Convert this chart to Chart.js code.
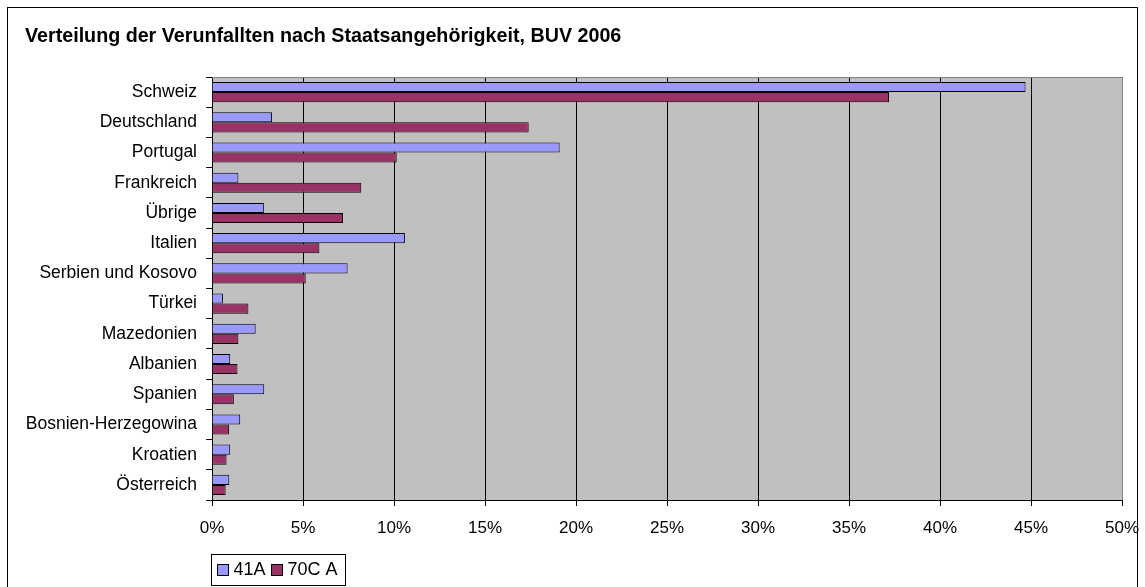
<!DOCTYPE html>
<html>
<head>
<meta charset="utf-8">
<script src="https://cdn.jsdelivr.net/npm/chart.js@4/dist/chart.umd.min.js"></script>
<style>
  body { margin: 0; background: #fff; }
  canvas { display: block; }
</style>
</head>
<body>
<canvas id="chart" width="1145" height="587"></canvas>
<script>
// data (percent)
const categories = ['Schweiz', 'Deutschland', 'Portugal', 'Frankreich', 'Übrige', 'Italien',
  'Serbien und Kosovo', 'Türkei', 'Mazedonien', 'Albanien', 'Spanien',
  'Bosnien-Herzegowina', 'Kroatien', 'Österreich'];
const values41A = [44.7, 3.3, 19.1, 1.45, 2.85, 10.6, 7.45, 0.6, 2.4, 1.0, 2.87, 1.55, 1.0, 0.95];
const values70CA = [37.2, 17.4, 10.15, 8.2, 7.2, 5.9, 5.15, 2.0, 1.45, 1.4, 1.2, 0.93, 0.8, 0.75];
const seriesNames = ['41A', '70C A'];
const titleText = 'Verteilung der Verunfallten nach Staatsangehörigkeit, BUV 2006';

const FONT = 'Arial, "Liberation Sans", sans-serif';

// grey plot area, outer frame, title
const background = {
  id: 'background',
  beforeDraw(chart) {
    const ctx = chart.ctx;
    const a = chart.chartArea;
    ctx.save();
    ctx.fillStyle = '#fff';
    ctx.fillRect(0, 0, chart.width, chart.height);
    ctx.fillStyle = '#c0c0c0';
    ctx.fillRect(a.left, a.top, a.right - a.left, a.bottom - a.top);
    ctx.strokeStyle = '#000';
    ctx.lineWidth = 1;
    ctx.strokeRect(7.5, 7.5, chart.width - 15, chart.height + 10);
    ctx.fillStyle = '#000';
    ctx.font = 'bold 19.7px ' + FONT;
    ctx.textBaseline = 'alphabetic';
    ctx.fillText(titleText, 25, 42);
    ctx.restore();
  },
  afterDatasetsDraw(chart) {
    const ctx = chart.ctx;
    const a = chart.chartArea;
    ctx.save();
    ctx.strokeStyle = '#808080';
    ctx.lineWidth = 1;
    ctx.beginPath();
    ctx.moveTo(a.left, a.top + 0.5);
    ctx.lineTo(a.right, a.top + 0.5);
    ctx.stroke();
    ctx.restore();
  }
};

// boxed legend under the axis
const boxLegend = {
  id: 'boxLegend',
  afterDraw(chart) {
    const ctx = chart.ctx;
    const x = 211.5, y = 554.5, w = 134, h = 31;
    ctx.save();
    ctx.fillStyle = '#fff';
    ctx.fillRect(x, y, w, h);
    ctx.strokeStyle = '#000';
    ctx.lineWidth = 1;
    ctx.strokeRect(x, y, w, h);
    ctx.font = '18px ' + FONT;
    ctx.textBaseline = 'middle';
    let cx = x + 6;
    chart.data.datasets.forEach(ds => {
      ctx.fillStyle = ds.backgroundColor;
      ctx.fillRect(cx, y + 10, 11, 11);
      ctx.strokeRect(cx, y + 10, 11, 11);
      ctx.fillStyle = '#000';
      ctx.fillText(ds.label, cx + 16, y + 16);
      cx += 16 + ctx.measureText(ds.label).width + 6;
    });
    ctx.restore();
  }
};

new Chart(document.getElementById('chart'), {
  type: 'bar',
  data: {
    labels: categories,
    datasets: [
      { label: seriesNames[0], data: values41A, backgroundColor: '#9999ff', borderColor: '#000', borderWidth: 1 },
      { label: seriesNames[1], data: values70CA, backgroundColor: '#993366', borderColor: '#000', borderWidth: 1 }
    ]
  },
  options: {
    indexAxis: 'y',
    responsive: false,
    animation: false,
    categoryPercentage: 0.667,
    barPercentage: 1.0,
    layout: { padding: { left: 0, right: 23, top: 77, bottom: 47 } },
    plugins: {
      legend: { display: false },
      title: { display: false },
      tooltip: { enabled: false }
    },
    scales: {
      x: {
        min: 0,
        max: 50,
        ticks: {
          stepSize: 5,
          color: '#000',
          font: { family: FONT, size: 17 },
          padding: 12,
          callback: v => v + '%'
        },
        grid: {
          color: ctx => (ctx.tick && ctx.tick.value === 50) ? '#808080' : '#000',
          tickColor: '#000',
          tickLength: 6
        },
        border: { color: '#000' },
        afterFit(scale) {
          scale.height = 40;
          scale.paddingLeft = 0;
          scale.paddingRight = 0;
        }
      },
      y: {
        ticks: {
          color: '#000',
          font: { family: FONT, size: 17.5 },
          padding: 9
        },
        grid: {
          drawOnChartArea: false,
          offset: true,
          color: '#000',
          tickLength: 6
        },
        border: { color: '#000' },
        afterFit(scale) { scale.width = 212; }
      }
    }
  },
  plugins: [background, boxLegend]
});
</script>
</body>
</html>
